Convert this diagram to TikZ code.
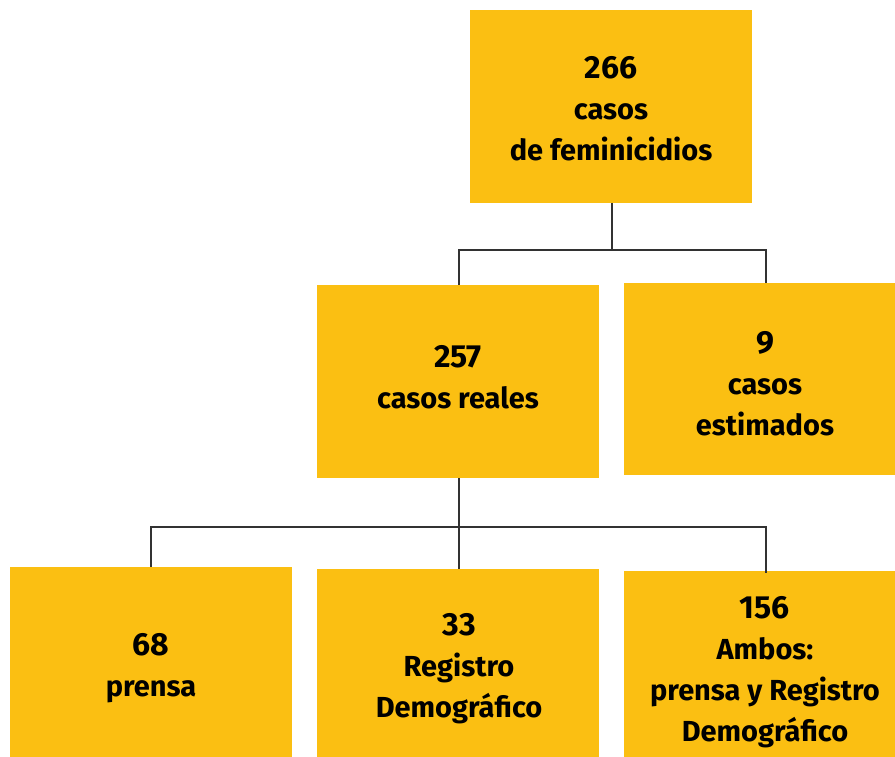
\documentclass[tikz,border=0pt]{standalone}
\usepackage{fontspec}
\setmainfont{Fira Sans}
\definecolor{boxyellow}{RGB}{251,191,18}
\definecolor{linegray}{RGB}{50,50,50}
\newcommand{\bignum}[1]{{\fontsize{32}{41}\selectfont #1}}
\begin{document}
\begin{tikzpicture}[x=1pt,y=-1pt,
  box/.style={fill=boxyellow, draw=none, inner sep=0pt, align=center,
    font=\fontsize{29}{41}\selectfont\bfseries},
  conn/.style={draw=linegray, line width=1.6pt}]
\useasboundingbox[fill=white] (0,0) rectangle (895,757);
% boxes
\path[fill=boxyellow] (470,10) rectangle (752,203);
\node[box] (top) at (611,109) {\bignum{266}\\casos\\de feminicidios};
\path[fill=boxyellow] (317,285) rectangle (599,478);
\node[box] (real) at (458,377) {\bignum{257}\\casos reales};
\path[fill=boxyellow] (624,283) rectangle (895,475);
\node[box] (est) at (765,384) {\bignum{9}\\casos\\estimados};
\path[fill=boxyellow] (10,567) rectangle (292,757);
\node[box] (prensa) at (151,668) {\bignum{68}\\prensa};
\path[fill=boxyellow] (317,569) rectangle (599,757);
\node[box] (reg) at (459,669) {\bignum{33}\\Registro\\Demográfico};
\path[fill=boxyellow] (624,571) rectangle (895,757);
\node[box] (ambos) at (765,672) {\bignum{156}\\Ambos:\\prensa y Registro\\Demográfico};
% anchor coordinates on box edges
\coordinate (topS) at (612,203);
\coordinate (realN) at (459,285);
\coordinate (estN) at (766,283);
\coordinate (realS) at (459,478);
\coordinate (prensaN) at (151,567);
\coordinate (regN) at (459,569);
\coordinate (ambosN) at (766,573);
\coordinate (j1) at (612,250);
\coordinate (j2) at (459,527);
% connectors
\draw[conn] (topS) -- (j1);
\draw[conn] (j1) -| (realN);
\draw[conn] (j1) -| (estN);
\draw[conn] (realS) -- (j2);
\draw[conn] (j2) -| (prensaN);
\draw[conn] (j2) -- (regN);
\draw[conn] (j2) -| (ambosN);
\end{tikzpicture}
\end{document}
